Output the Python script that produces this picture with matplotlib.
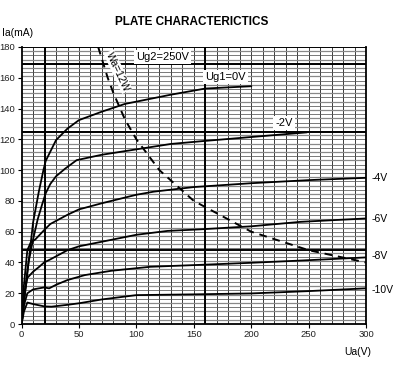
import matplotlib.pyplot as plt
import numpy as np

plt.rcParams['font.family'] = ['Liberation Sans', 'DejaVu Sans']

# plate curves (Ua in V, Ia in mA)
ua_0 = [0, 5, 10, 15, 19, 21, 25, 30, 40, 50, 70, 90, 110, 130, 160, 200]
ia_0 = [0, 33, 66, 86, 100, 106, 112, 119.5, 127, 132.5, 138, 143, 146, 149, 153, 154.5]

ua_2 = [0, 3, 6, 10, 14, 18, 21, 25, 30, 38, 48, 70, 100, 130, 160, 200, 248]
ia_2 = [0, 22, 40, 55, 68, 78, 85, 91, 96, 101, 106.5, 110, 113.5, 117, 119, 121.5, 124.5]

ua_4 = [0, 2, 5, 8, 12, 19.6, 25, 30, 40, 50, 70, 100, 115, 150, 200, 250, 300]
ia_4 = [0, 25, 48, 53, 55, 61, 65, 67, 71, 74.5, 78.5, 84, 86, 89, 91.5, 93.5, 95]

ua_6 = [0, 2, 5, 10, 15, 19.6, 25, 30, 40, 50, 70, 100, 127, 155, 200, 243, 300]
ia_6 = [0, 18, 30, 34, 37, 40, 42, 44, 48, 50.5, 53.5, 58, 60.5, 61.5, 63.5, 66.4, 68.6]

ua_8 = [0, 2, 5, 10, 19.6, 24, 30, 40, 55, 78, 112, 150, 200, 250, 300]
ia_8 = [0, 12, 20, 22.5, 23.8, 23.2, 25.5, 28.6, 31.8, 34.6, 37.2, 38.3, 39.8, 41.5, 43.3]

ua_10 = [0, 2, 5, 10, 19.6, 26, 40, 50, 70, 100, 150, 200, 250, 300]
ia_10 = [0, 8, 14, 13, 11.5, 11.3, 12.5, 13.5, 16, 18.8, 19.3, 19.9, 21.4, 23.2]

# max plate dissipation line Wa=12W
ua_w = [66.7, 75, 80, 90, 100, 120, 150, 200, 250, 300]
ia_w = [180, 160, 150, 133, 120, 100, 80, 60, 48, 40]

fig = plt.figure(figsize=(4, 3.67), dpi=100)
ax = fig.add_axes([0.054, 0.117, 0.861, 0.755])

# graph paper grid
for v in range(10, 300, 10):
    ax.axvline(v, color='#3a3a3a', lw=0.7, zorder=1)
for k, a in enumerate(np.linspace(0, 180, 67)[1:-1]):
    ax.axhline(a, color='#555555' if k % 2 else '#888888', lw=0.55 if k % 2 else 0.9, zorder=1)
for v in [20, 160]:
    ax.axvline(v, color='black', lw=1.4, zorder=1)
for a in [48, 125, 169]:
    ax.axhline(a, color='black', lw=1.4, zorder=1)

for u, i in [(ua_0, ia_0), (ua_2, ia_2), (ua_4, ia_4), (ua_6, ia_6), (ua_8, ia_8), (ua_10, ia_10)]:
    ax.plot(u, i, color='black', lw=1.3, zorder=3)
ax.plot(ua_w, ia_w, color='black', lw=1.4, ls=(0, (4, 3)), zorder=3)

box = dict(facecolor='white', edgecolor='none', pad=1.5)
ax.text(122.8, 173.4, 'Ug2=250V', fontsize=8, ha='center', va='center', bbox=box, zorder=4)
ax.text(177.5, 160.4, 'Ug1=0V', fontsize=8, ha='center', va='center', bbox=box, zorder=4)
ax.text(228.7, 130.5, '-2V', fontsize=8, ha='center', va='center', bbox=box, zorder=4)
ax.text(84, 164, 'Wa=12W', fontsize=7.5, ha='center', va='center', rotation=-65,
        bbox=dict(facecolor='white', edgecolor='none', pad=0.5), zorder=4)
for txt, y in [('-4V', 94.8), ('-6V', 68.2), ('-8V', 44), ('-10V', 22)]:
    ax.text(305, y, txt, fontsize=7.5, ha='left', va='center', clip_on=False)

ax.set_xlim(0, 300)
ax.set_ylim(0, 180)
ax.set_xticks(range(0, 301, 50))
ax.set_yticks(range(0, 181, 20))
ax.tick_params(labelsize=6.8, length=3, width=0.8, pad=1.5, colors='black', labelcolor='#222222')
for s in ax.spines.values():
    s.set_linewidth(1.3)
ax.spines['top'].set_linewidth(0.7)

fig.text(0.48, 0.94, 'PLATE CHARACTERICTICS', fontsize=8.5, fontweight='bold', ha='center', va='center')
fig.text(0.005, 0.91, 'Ia(mA)', fontsize=7.5, ha='left', va='center')
fig.text(0.895, 0.041, 'Ua(V)', fontsize=7.5, ha='center', va='center')

fig.savefig('out.png', dpi=100)
